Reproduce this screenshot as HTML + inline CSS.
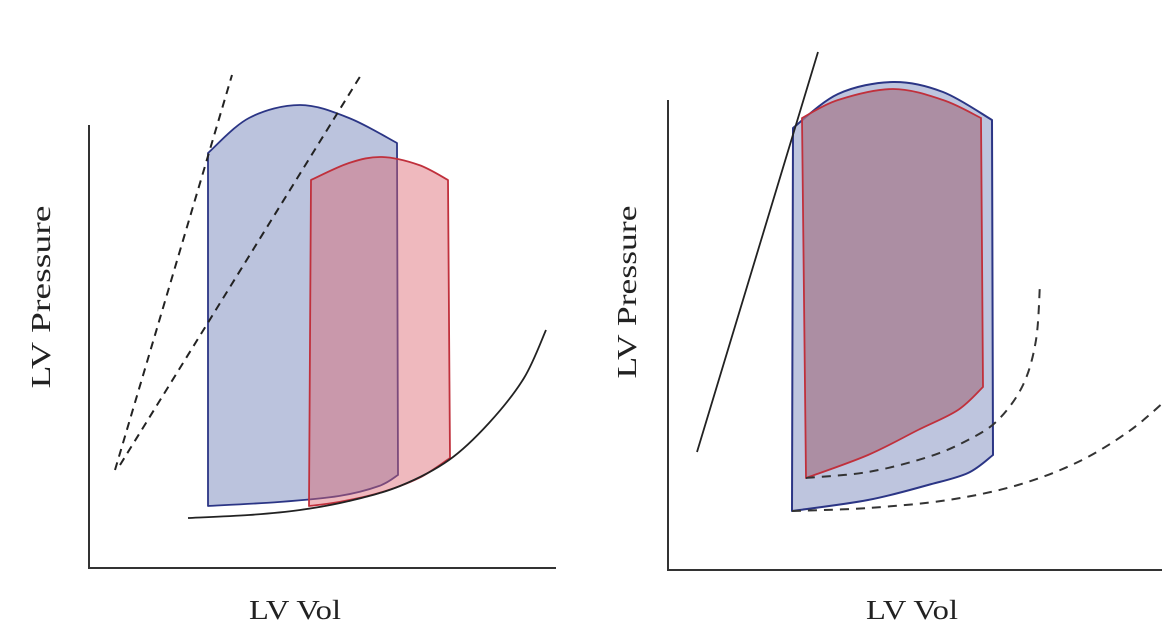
<!DOCTYPE html>
<html><head><meta charset="utf-8"><style>
html,body{margin:0;padding:0;background:#fff;}
svg{display:block;}
text{font-family:"Liberation Serif",serif;fill:#222;}
</style></head><body>
<svg id="chart" width="1164" height="636" viewBox="0 0 1164 636" xmlns="http://www.w3.org/2000/svg">
<g id="left">
 <line x1="89" y1="125" x2="89" y2="569" stroke="#333" stroke-width="2"/>
 <line x1="88" y1="568" x2="556" y2="568" stroke="#333" stroke-width="2"/>
 <text x="295" y="619" font-size="27" text-anchor="middle" textLength="92" lengthAdjust="spacingAndGlyphs">LV Vol</text>
 <text transform="translate(50,297) rotate(-90)" font-size="27" text-anchor="middle" textLength="183" lengthAdjust="spacingAndGlyphs">LV Pressure</text>
</g>
<g id="right">
 <line x1="668" y1="100" x2="668" y2="571" stroke="#333" stroke-width="2"/>
 <line x1="667" y1="570" x2="1162" y2="570" stroke="#333" stroke-width="2"/>
 <text x="912" y="619" font-size="27" text-anchor="middle" textLength="92" lengthAdjust="spacingAndGlyphs">LV Vol</text>
 <text transform="translate(636,292) rotate(-90)" font-size="27" text-anchor="middle" textLength="173" lengthAdjust="spacingAndGlyphs">LV Pressure</text>
</g>
</svg>
<script>
// Schematic data: volume (x units) and pressure (y units) relative to each panel origin
// Left panel
const leftBlueVol = [119, 119, 160, 211, 260, 308, 309, 290, 250, 190, 119];
const leftBluePres = [62, 415, 450, 463, 450, 425, 93, 82, 72, 66, 62];
const leftRedVol = [220, 222, 260, 293, 330, 359, 361, 330, 290, 250, 220];
const leftRedPres = [62, 388, 405, 411, 403, 388, 110, 90, 75, 66, 62];
const leftEdpvrVol = [99, 160, 211, 260, 311, 360, 400, 435, 457];
const leftEdpvrPres = [50, 53, 58, 67, 82, 108, 145, 190, 238];
const leftEsp1Vol = [26, 143];
const leftEsp1Pres = [98, 493];
const leftEsp2Vol = [31, 272];
const leftEsp2Pres = [103, 493];
// Right panel
const rightBlueVol = [124, 125, 170, 225, 275, 324, 325, 300, 260, 200, 124];
const rightBluePres = [59, 442, 476, 488, 478, 450, 115, 97, 85, 70, 59];
const rightRedVol = [138, 134, 170, 225, 275, 313, 315, 290, 250, 200, 138];
const rightRedPres = [92, 452, 470, 481, 470, 452, 183, 160, 140, 115, 92];
const rightEsVol = [29, 150];
const rightEsPres = [118, 518];
const rightEd1Vol = [138, 200, 260, 300, 330, 355, 368, 372];
const rightEd1Pres = [92, 98, 113, 130, 150, 185, 230, 287];
const rightEd2Vol = [124, 200, 280, 350, 410, 460, 496];
const rightEd2Pres = [59, 62, 70, 85, 108, 138, 168];

function makeScale(ox, oy){ return {x: v => ox + v, y: p => oy - p}; }
const L = makeScale(89, 568), R = makeScale(668, 570);
const NS = 'http://www.w3.org/2000/svg';

function smooth(pts, closed){
  let d = 'M' + pts[0][0] + ',' + pts[0][1];
  const n = pts.length;
  for (let i = 0; i < n - 1; i++){
    const p0 = pts[Math.max(i-1,0)], p1 = pts[i], p2 = pts[i+1], p3 = pts[Math.min(i+2,n-1)];
    const c1 = [p1[0] + (p2[0]-p0[0])/6, p1[1] + (p2[1]-p0[1])/6];
    const c2 = [p2[0] - (p3[0]-p1[0])/6, p2[1] - (p3[1]-p1[1])/6];
    d += ' C' + c1.join(',') + ' ' + c2.join(',') + ' ' + p2.join(',');
  }
  return d + (closed ? ' Z' : '');
}
function loopPath(sc, vol, pres){
  const P = vol.map((v,i)=>[sc.x(v), sc.y(pres[i])]);
  const top = smooth(P.slice(1,6), false);
  const bottom = smooth(P.slice(6,11), false).replace(/^M[^ ]+/, '');
  return 'M' + P[0].join(',') + ' L' + P[1].join(',') + top.replace(/^M[^ ]+/, '') + ' L' + P[6].join(',') + bottom + ' Z';
}
function curvePath(sc, vol, pres){
  return smooth(vol.map((v,i)=>[sc.x(v), sc.y(pres[i])]), false);
}
function add(parentId, d, fill, stroke, sw, dash){
  const el = document.createElementNS(NS, 'path');
  el.setAttribute('d', d);
  el.setAttribute('fill', fill);
  el.setAttribute('stroke', stroke);
  el.setAttribute('stroke-width', sw);
  el.setAttribute('stroke-linejoin', 'round');
  if (dash) el.setAttribute('stroke-dasharray', dash);
  document.getElementById(parentId).appendChild(el);
  return el;
}
let e;
e = add('left', loopPath(L, leftBlueVol, leftBluePres), 'rgba(125,140,190,0.52)', '#2b3585', 1.8);


e = add('left', loopPath(L, leftRedVol, leftRedPres), 'rgba(220,100,110,0.45)', '#c0303c', 1.8);


e = add('left', curvePath(L, leftEdpvrVol, leftEdpvrPres), 'none', '#222', 1.8);


e = add('left', curvePath(L, leftEsp1Vol, leftEsp1Pres), 'none', '#222', 2, '8,6');


e = add('left', curvePath(L, leftEsp2Vol, leftEsp2Pres), 'none', '#222', 2, '8,6');



e = add('right', loopPath(R, rightBlueVol, rightBluePres), 'rgba(125,140,190,0.5)', '#2b3585', 2);


e = add('right', loopPath(R, rightRedVol, rightRedPres), 'rgba(165,120,140,0.72)', '#c0303c', 1.8);


e = add('right', curvePath(R, rightEsVol, rightEsPres), 'none', '#222', 1.8);


e = add('right', curvePath(R, rightEd1Vol, rightEd1Pres), 'none', '#333', 2, '9,7');


e = add('right', curvePath(R, rightEd2Vol, rightEd2Pres), 'none', '#333', 2, '9,7');


</script>
</body></html>
